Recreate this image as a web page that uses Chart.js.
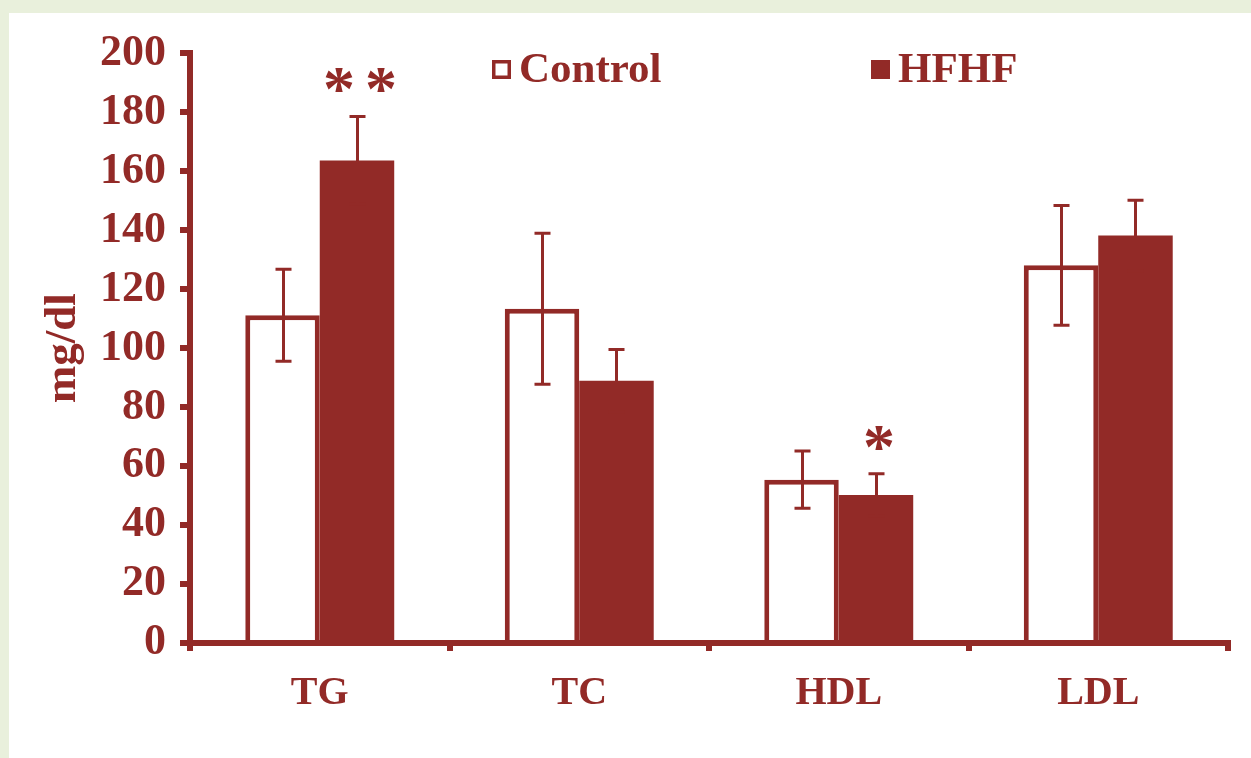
<!DOCTYPE html>
<html><head><meta charset="utf-8">
<script src="https://cdn.jsdelivr.net/npm/chart.js@4/dist/chart.umd.min.js"></script>
<style>
html,body{margin:0;padding:0;background:#e9f0dc;width:1251px;height:758px;overflow:hidden}
#wrap{position:absolute;left:9px;top:13px;width:1242px;height:745px;background:#fff}
canvas{display:block}
</style></head><body>
<div id="wrap"><canvas id="c" width="1242" height="745"></canvas></div>
<script>
// ---- data ----
const categories = ['TG', 'TC', 'HDL', 'LDL'];
const seriesNames = ['Control', 'HFHF'];
const controlMeans = [111.2, 113.4, 55.4, 128.1];
const controlErrors = [15.6, 25.6, 9.7, 20.3];
const hfhfMeans = [163.7, 89.0, 50.2, 138.2];
const hfhfErrors = [14.9, 10.6, 7.2, 12.0];
const hfhfSignificance = ['**', '', '*', ''];
const yTickValues = [0, 20, 40, 60, 80, 100, 120, 140, 160, 180, 200];
const yAxisTitle = 'mg/dl';

// ---- style ----
const RED = '#922a27';
const FONT = '"Liberation Serif", "Times New Roman", serif';

const errorBarPlugin = {
  id: 'errorBars',
  afterDatasetsDraw(chart) {
    const ctx = chart.ctx, y = chart.scales.y;
    ctx.save();
    ctx.strokeStyle = RED;
    ctx.lineWidth = 3;
    chart.data.datasets.forEach((ds, di) => {
      const meta = chart.getDatasetMeta(di);
      meta.data.forEach((bar, i) => {
        const m = ds.data[i], e = ds.errors[i];
        const yt = y.getPixelForValue(m + e), yb = y.getPixelForValue(m - e);
        const x = Math.round(bar.x) + 0.5;
        ctx.beginPath();
        ctx.moveTo(x, yt); ctx.lineTo(x, yb);
        ctx.moveTo(x - 8, yt); ctx.lineTo(x + 8, yt);
        ctx.moveTo(x - 8, yb); ctx.lineTo(x + 8, yb);
        ctx.stroke();
      });
    });
    ctx.restore();
  },
  afterDraw(chart) {
    const ctx = chart.ctx, y = chart.scales.y;
    ctx.save();
    // significance stars above HFHF bars
    const hMeta = chart.getDatasetMeta(1);
    ctx.fillStyle = RED;
    ctx.font = 'bold 64px ' + FONT;
    ctx.textAlign = 'center';
    ctx.textBaseline = 'alphabetic';
    const mm = ctx.measureText('*');
    const asc = mm.actualBoundingBoxAscent, desc = mm.actualBoundingBoxDescent;
    hfhfSignificance.forEach((s, i) => {
      if (!s) return;
      const bar = hMeta.data[i];
      const cy = y.getPixelForValue(hfhfMeans[i] + hfhfErrors[i]) - 36;
      const n = s.length, gap = 42;
      for (let k = 0; k < n; k++) {
        const cx = bar.x + 3 + (k - (n - 1) / 2) * gap;
        ctx.fillText('*', cx, cy + (asc - desc) / 2);
      }
    });
    // legend
    const ds = chart.data.datasets;
    const items = [{x: 483, label: ds[0].label, filled: false}, {x: 862, label: ds[1].label, filled: true}];
    ctx.font = 'bold 43px ' + FONT;
    ctx.textAlign = 'left';
    ctx.textBaseline = 'middle';
    items.forEach(it => {
      if (it.filled) {
        ctx.fillStyle = RED;
        ctx.fillRect(it.x, 47, 19, 19);
      } else {
        ctx.strokeStyle = RED;
        ctx.lineWidth = 3.5;
        ctx.strokeRect(it.x + 1.75, 48.75, 15.5, 15.5);
      }
      ctx.fillStyle = RED;
      ctx.fillText(it.label, it.x + 27, 58);
    });
    ctx.restore();
  }
};

const chart = new Chart(document.getElementById('c'), {
  type: 'bar',
  data: {
    labels: categories,
    datasets: [
      {label: seriesNames[0], data: controlMeans, errors: controlErrors,
       backgroundColor: '#ffffff', borderColor: RED, borderWidth: 5,
       barPercentage: 1.0, categoryPercentage: 0.574},
      {label: seriesNames[1], data: hfhfMeans, errors: hfhfErrors,
       backgroundColor: RED, borderColor: RED, borderWidth: 0,
       barPercentage: 1.0, categoryPercentage: 0.574}
    ]
  },
  options: {
    responsive: false,
    animation: false,
    layout: {padding: {left: 0, top: 40, right: 23, bottom: 0}},
    plugins: {legend: {display: false}, tooltip: {enabled: false}},
    scales: {
      x: {
        z: 1,
        grid: {display: true, drawOnChartArea: false, drawTicks: true, tickLength: 8, lineWidth: 6, color: RED, offset: true},
        border: {display: true, width: 6, color: RED},
        ticks: {color: RED, font: {family: FONT, size: 40, weight: 'bold'}, padding: 19},
        afterFit(s) { s.height = 115; }
      },
      y: {
        z: 1,
        min: 0, max: 200,
        afterBuildTicks(s) { s.ticks = yTickValues.map(v => ({value: v})); },
        grid: {display: true, drawOnChartArea: false, drawTicks: true, tickLength: 10, lineWidth: 6, color: RED},
        border: {display: true, width: 6, color: RED},
        ticks: {color: RED, font: {family: FONT, size: 44, weight: 'bold'}, padding: 14},
        title: {display: true, text: yAxisTitle, color: RED, font: {family: FONT, size: 45, weight: 'bold'}, padding: {top: 27, bottom: 0}},
        afterFit(s) { s.width = 181; }
      }
    }
  },
  plugins: [errorBarPlugin]
});
</script>
</body></html>
